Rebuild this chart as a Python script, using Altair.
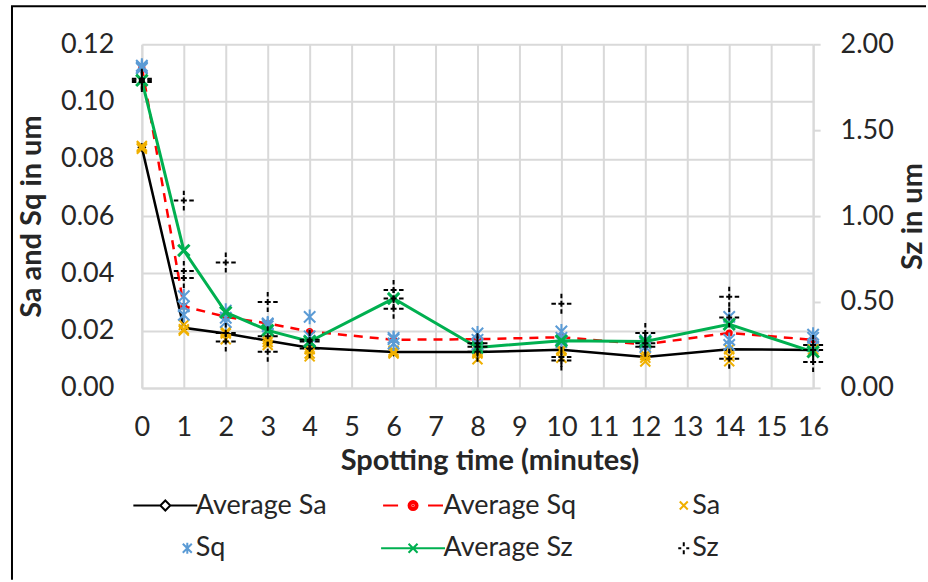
import altair as alt
import pandas as pd

# ---------------- data ----------------
times = [0, 1, 2, 3, 4, 6, 8, 10, 12, 14, 16]

avg_sa = [0.084, 0.021, 0.019, 0.0165, 0.014, 0.0125, 0.0125, 0.0133, 0.0108, 0.0135, 0.0132]
avg_sq = [0.112, 0.0285, 0.0248, 0.0225, 0.0197, 0.0168, 0.0170, 0.0177, 0.0152, 0.0192, 0.0168]
avg_sz = [1.79, 0.80, 0.44, 0.335, 0.27, 0.52, 0.235, 0.275, 0.27, 0.37, 0.21]

sa_r1 = [0.0845, 0.022, 0.0195, 0.017, 0.0135, 0.013, 0.0125, 0.0135, 0.0115, 0.0135, 0.0135]
sa_r2 = [0.084, 0.0205, 0.019, 0.016, 0.012, 0.0125, 0.012, 0.013, 0.0105, 0.011, 0.013]
sa_r3 = [0.0835, 0.020, 0.017, 0.015, 0.011, 0.012, 0.010, 0.0105, 0.0092, 0.0093, 0.0125]

sq_r1 = [0.1125, 0.032, 0.027, 0.0225, 0.0248, 0.0175, 0.019, 0.0197, 0.0167, 0.0248, 0.0186]
sq_r2 = [0.112, 0.0285, 0.0245, 0.0222, 0.018, 0.017, 0.0168, 0.0175, 0.0155, 0.0168, 0.0175]
sq_r3 = [0.1115, 0.0255, 0.023, 0.0215, 0.0165, 0.0155, 0.0152, 0.016, 0.0143, 0.015, 0.0145]

sz_r1 = [1.80, 1.09, 0.73, 0.50, 0.28, 0.57, 0.26, 0.49, 0.32, 0.53, 0.25]
sz_r2 = [1.79, 0.68, 0.32, 0.30, 0.27, 0.52, 0.24, 0.18, 0.26, 0.41, 0.22]
sz_r3 = [1.78, 0.64, 0.27, 0.21, 0.23, 0.46, 0.21, 0.16, 0.24, 0.17, 0.15]

x_ticks = list(range(0, 17))
left_ticks = [0.0, 0.02, 0.04, 0.06, 0.08, 0.10, 0.12]
right_ticks = [0.0, 0.5, 1.0, 1.5, 2.0]

series_names = ["Average Sa", "Average Sq", "Sa", "Sq", "Average Sz", "Sz"]
series_colors = ["#000000", "#ff0000", "#f0b000", "#5b9bd5", "#00b050", "#000000"]

# ---------------- styling ----------------
FONT = "Lato"
FS = 27      # tick labels
TFS = 29     # axis titles
LFS = 27     # legend labels
TXT = "#262626"
GRID = "#d9d9d9"

X_PATH = "M-1,-1L1,1M-1,1L1,-1"
AST_PATH = "M-1,-1L1,1M-1,1L1,-1M0,-1.3V1.3"
PLUS_PATH = "M-1,0H-0.55M-0.3,0H0.3M0.55,0H1M0,-1V-0.55M0,-0.3V0.3M0,0.55V1"

legend_paths = [
    "M-3.2,0H-0.5M0.5,0H3.2M0,-0.5L0.5,0L0,0.5L-0.5,0Z",
    "M-3.0,0H-1.5M1.5,0H3.0M-0.45,0A0.45,0.45 0 1,0 0.45,0A0.45,0.45 0 1,0 -0.45,0"
    "M-0.25,0A0.25,0.25 0 1,0 0.25,0A0.25,0.25 0 1,0 -0.25,0M-0.1,0H0.1",
    "M1.8,-0.4L2.6,0.4M1.8,0.4L2.6,-0.4",
    "M1.75,-0.45L2.65,0.45M1.75,0.45L2.65,-0.45M2.2,-0.55V0.55",
    "M-3.2,0H3.2M-0.45,-0.45L0.45,0.45M-0.45,0.45L0.45,-0.45",
    "M1.65,0H1.95M2.45,0H2.75M2.2,-0.6V-0.2M2.2,0.2V0.6",
]

avg_df = pd.DataFrame({"t": times, "avg_sa": avg_sa, "avg_sq": avg_sq, "avg_sz": avg_sz})
rep_df = pd.DataFrame({
    "t": times * 3,
    "sa": sa_r1 + sa_r2 + sa_r3,
    "sq": sq_r1 + sq_r2 + sq_r3,
    "sz": sz_r1 + sz_r2 + sz_r3,
})

x_scale = alt.Scale(domain=[0, 16], nice=False, zero=False)
yl_scale = alt.Scale(domain=[0, 0.12], nice=False)
yr_scale = alt.Scale(domain=[0, 2], nice=False)

x_axis = alt.Axis(values=x_ticks, title="Spotting time (minutes)", grid=True, gridColor=GRID,
                  gridWidth=2, ticks=False, domainColor=GRID, domainWidth=2, labelPadding=27,
                  titlePadding=6, titleX=348, labelFlush=False)
left_axis = alt.Axis(values=left_ticks, format=".2f", title="Sa and Sq in um", grid=True,
                     gridColor=GRID, gridWidth=2, ticks=False, domainColor=GRID, domainWidth=2,
                     labelPadding=28, titlePadding=14)
right_axis = alt.Axis(orient="right", values=right_ticks, format=".2f", title="Sz in um",
                      grid=False, ticks=True, tickSize=7, tickColor=GRID, tickWidth=2,
                      domainColor=GRID, domainWidth=2, labelPadding=20, titlePadding=34,
                      titleAngle=270)

X = alt.X("t:Q", scale=x_scale, axis=x_axis)


def YL(field):
    return alt.Y(field, type="quantitative", scale=yl_scale, axis=left_axis)


def YR(field):
    return alt.Y(field, type="quantitative", scale=yr_scale, axis=right_axis)


base_avg = alt.Chart(avg_df)
base_rep = alt.Chart(rep_df)

avg_sa_line = base_avg.mark_line(color="black", strokeWidth=2.5).encode(x=X, y=YL("avg_sa"))
avg_sa_pts = base_avg.mark_point(shape="diamond", filled=True, fill="white", stroke="black",
                                 strokeWidth=1.5, size=50, opacity=1).encode(x=X, y=YL("avg_sa"))
avg_sq_line = base_avg.mark_line(color="#ff0000", strokeWidth=2.5, strokeDash=[9, 7]).encode(
    x=X, y=YL("avg_sq"))
avg_sq_pts = base_avg.mark_point(shape="circle", filled=True, color="#ff0000", size=50,
                                 opacity=1).encode(x=X, y=YL("avg_sq"))
sa_pts = base_rep.mark_point(shape=X_PATH, filled=False, color="#f0b000", strokeWidth=2,
                             size=100, opacity=1).encode(x=X, y=YL("sa"))
sq_pts = base_rep.mark_point(shape=AST_PATH, filled=False, color="#5b9bd5", strokeWidth=2,
                             size=130, opacity=1).encode(x=X, y=YL("sq"))

left_layer = alt.layer(avg_sa_line, avg_sa_pts, avg_sq_line, avg_sq_pts, sa_pts, sq_pts)

avg_sz_line = base_avg.mark_line(color="#00b050", strokeWidth=3).encode(x=X, y=YR("avg_sz"))
avg_sz_pts = base_avg.mark_point(shape=X_PATH, filled=False, color="#00b050", strokeWidth=3,
                                 size=130, opacity=1).encode(x=X, y=YR("avg_sz"))
sz_pts = base_rep.mark_point(shape=PLUS_PATH, filled=False, color="black", strokeWidth=2,
                             size=400, opacity=1).encode(x=X, y=YR("sz"))

right_layer = alt.layer(avg_sz_line, avg_sz_pts, sz_pts)

leg = alt.Legend(title=None, orient="none", legendX=-12, legendY=448, columns=3,
                 direction="horizontal",
                 symbolSize=400, symbolStrokeWidth=2, symbolOpacity=1, symbolOffset=22,
                 labelOffset=17, columnPadding=50, rowPadding=15, labelFontSize=LFS,
                 labelFont=FONT, labelColor=TXT)
legend_layer = alt.Chart(pd.DataFrame({"series": series_names})).mark_point(
    filled=False, opacity=0).encode(
    color=alt.Color("series:N", scale=alt.Scale(domain=series_names, range=series_colors),
                    legend=leg),
    shape=alt.Shape("series:N", scale=alt.Scale(domain=series_names, range=legend_paths),
                    legend=leg),
)

frame_df = pd.DataFrame({"k": [0]})
border_v = alt.Chart(frame_df).mark_rule(color="black", strokeWidth=2).encode(
    x=alt.value(-130), y=alt.value(-38), y2=alt.value(536))
border_h = alt.Chart(frame_df).mark_rule(color="black", strokeWidth=2).encode(
    x=alt.value(-131), x2=alt.value(785), y=alt.value(-38))

chart = alt.layer(left_layer, right_layer, legend_layer, border_v, border_h).resolve_scale(
    y="independent"
).properties(
    width=672, height=344,
    padding={"left": 10, "top": 5, "right": 0, "bottom": 0},
    background="white",
).configure_view(stroke=None).configure_axis(
    labelFont=FONT, titleFont=FONT, labelFontSize=FS, titleFontSize=TFS,
    labelColor=TXT, titleColor=TXT, titleFontWeight="bold",
).configure_legend(labelFont=FONT, labelFontSize=LFS, labelColor=TXT)

chart.save("out.html", embed_options={"renderer": "svg", "actions": False})
